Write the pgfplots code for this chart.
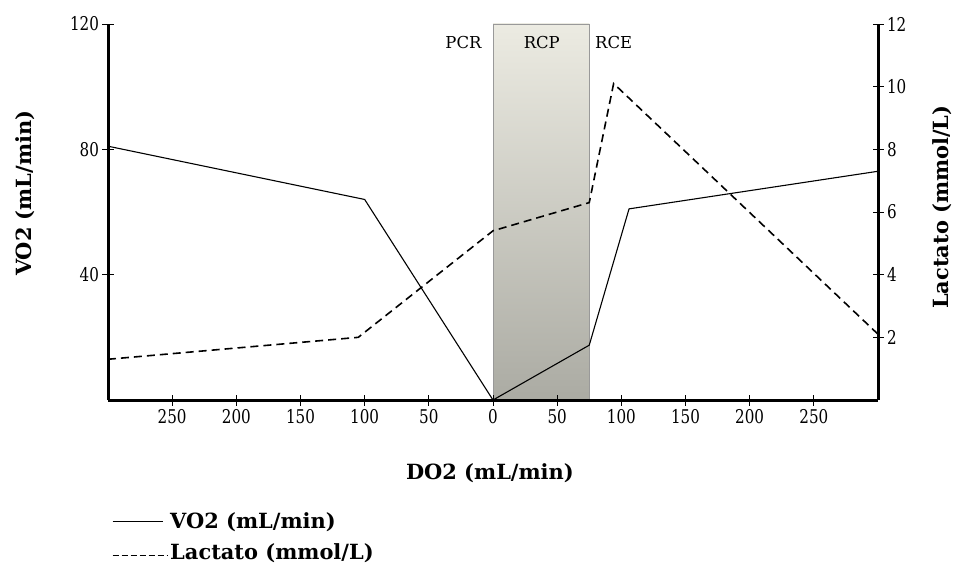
\documentclass[border=0pt]{standalone}
\usepackage{fontspec}
\setmainfont{DejaVu Serif}
\newfontfamily\tickfont[FakeStretch=0.8]{DejaVu Serif}
\usepackage{pgfplots}
\pgfplotsset{compat=1.18}
\definecolor{rtop}{HTML}{ECEBE2}
\definecolor{rbot}{HTML}{ABABA3}
\begin{document}
\begin{tikzpicture}
\begin{axis}[
  width=770bp, height=376bp, scale only axis,
  xmin=-300, xmax=300, ymin=0, ymax=120,
  axis x line*=bottom, axis y line*=left,
  axis line style={line width=3bp},
  axis on top,
  xtick={-250,-200,-150,-100,-50,0,50,100,150,200,250},
  xticklabels={250,200,150,100,50,0,50,100,150,200,250},
  ytick={40,80,120}, yticklabels={40,80,120},
  tick align=center, major tick length=11bp,
  tick style={black, line width=0.8bp},
  x tick label style={font=\tickfont\fontsize{19}{19}\selectfont, yshift=0bp},
  y tick label style={font=\tickfont\fontsize{19}{19}\selectfont},
  xlabel={\textbf{DO2 (mL/min)}},
  xlabel style={font=\fontsize{21}{21}\selectfont, at={(axis description cs:0.496,-0.194)}, anchor=center},
  ylabel={\textbf{VO2 (mL/min)}},
  ylabel style={font=\fontsize{21}{21}\selectfont, at={(axis description cs:-0.108,0.55)}, anchor=center, rotate=0},
  legend style={at={(axis description cs:0.005,-0.293)}, anchor=north west, draw=none, fill=none, inner sep=0pt,
    font=\bfseries\fontsize{21}{21}\selectfont, row sep=10bp,
    /tikz/every even column/.append style={column sep=2bp}},
  legend cell align=left,
  clip=false,
]
\addplot[draw=gray!80, line width=0.8bp, top color=rtop, bottom color=rbot, forget plot]
  coordinates {(0,0) (0,120) (75,120) (75,0)} -- cycle;
\addplot[black, line width=1.1bp, legend image code/.code={\draw[black, line width=1.1bp] (0bp,0bp) -- (50bp,0bp);}]
  coordinates {(-300,81) (-100,64) (0,0) (75,17.5) (106,61) (300,73)};
\addlegendentry{VO2 (mL/min)}
\addlegendimage{black, line width=1.2bp, legend image code/.code={\draw[black, line width=1.2bp, dash pattern=on 6bp off 3bp] (0bp,-3bp) -- (55bp,-3bp);}}
\addlegendentry{Lactato (mmol/L)}
\node[font=\fontsize{16.5}{16.5}\selectfont] at (axis cs:-23,114) {PCR};
\node[font=\fontsize{16.5}{16.5}\selectfont] at (axis cs:38,114) {RCP};
\node[font=\fontsize{16.5}{16.5}\selectfont] at (axis cs:94,114) {RCE};
\end{axis}
\begin{axis}[
  width=770bp, height=376bp, scale only axis,
  xmin=-300, xmax=300, ymin=0, ymax=12,
  axis x line=none, axis y line*=right,
  axis line style={line width=3bp},
  ytick={2,4,6,8,10,12}, yticklabels={2,4,6,8,10,12},
  tick align=center, major tick length=11bp,
  tick style={black, line width=0.8bp},
  y tick label style={font=\tickfont\fontsize{19}{19}\selectfont},
  ylabel={\textbf{Lactato (mmol/L)}},
  ylabel style={font=\fontsize{21}{21}\selectfont, at={(axis description cs:1.083,0.513)}, anchor=center, rotate=0},
  clip=false,
]
\addplot[black, line width=1.6bp, dash pattern=on 8bp off 5bp]
  coordinates {(-300,1.3) (-105,2.0) (0,5.4) (75,6.3) (94,10.1) (300,2.1)};
\end{axis}
\pgfresetboundingbox
\path ([xshift=-108bp,yshift=-167bp]current axis.south west) rectangle ([xshift=77bp,yshift=24bp]current axis.north east);
\end{tikzpicture}
\end{document}
